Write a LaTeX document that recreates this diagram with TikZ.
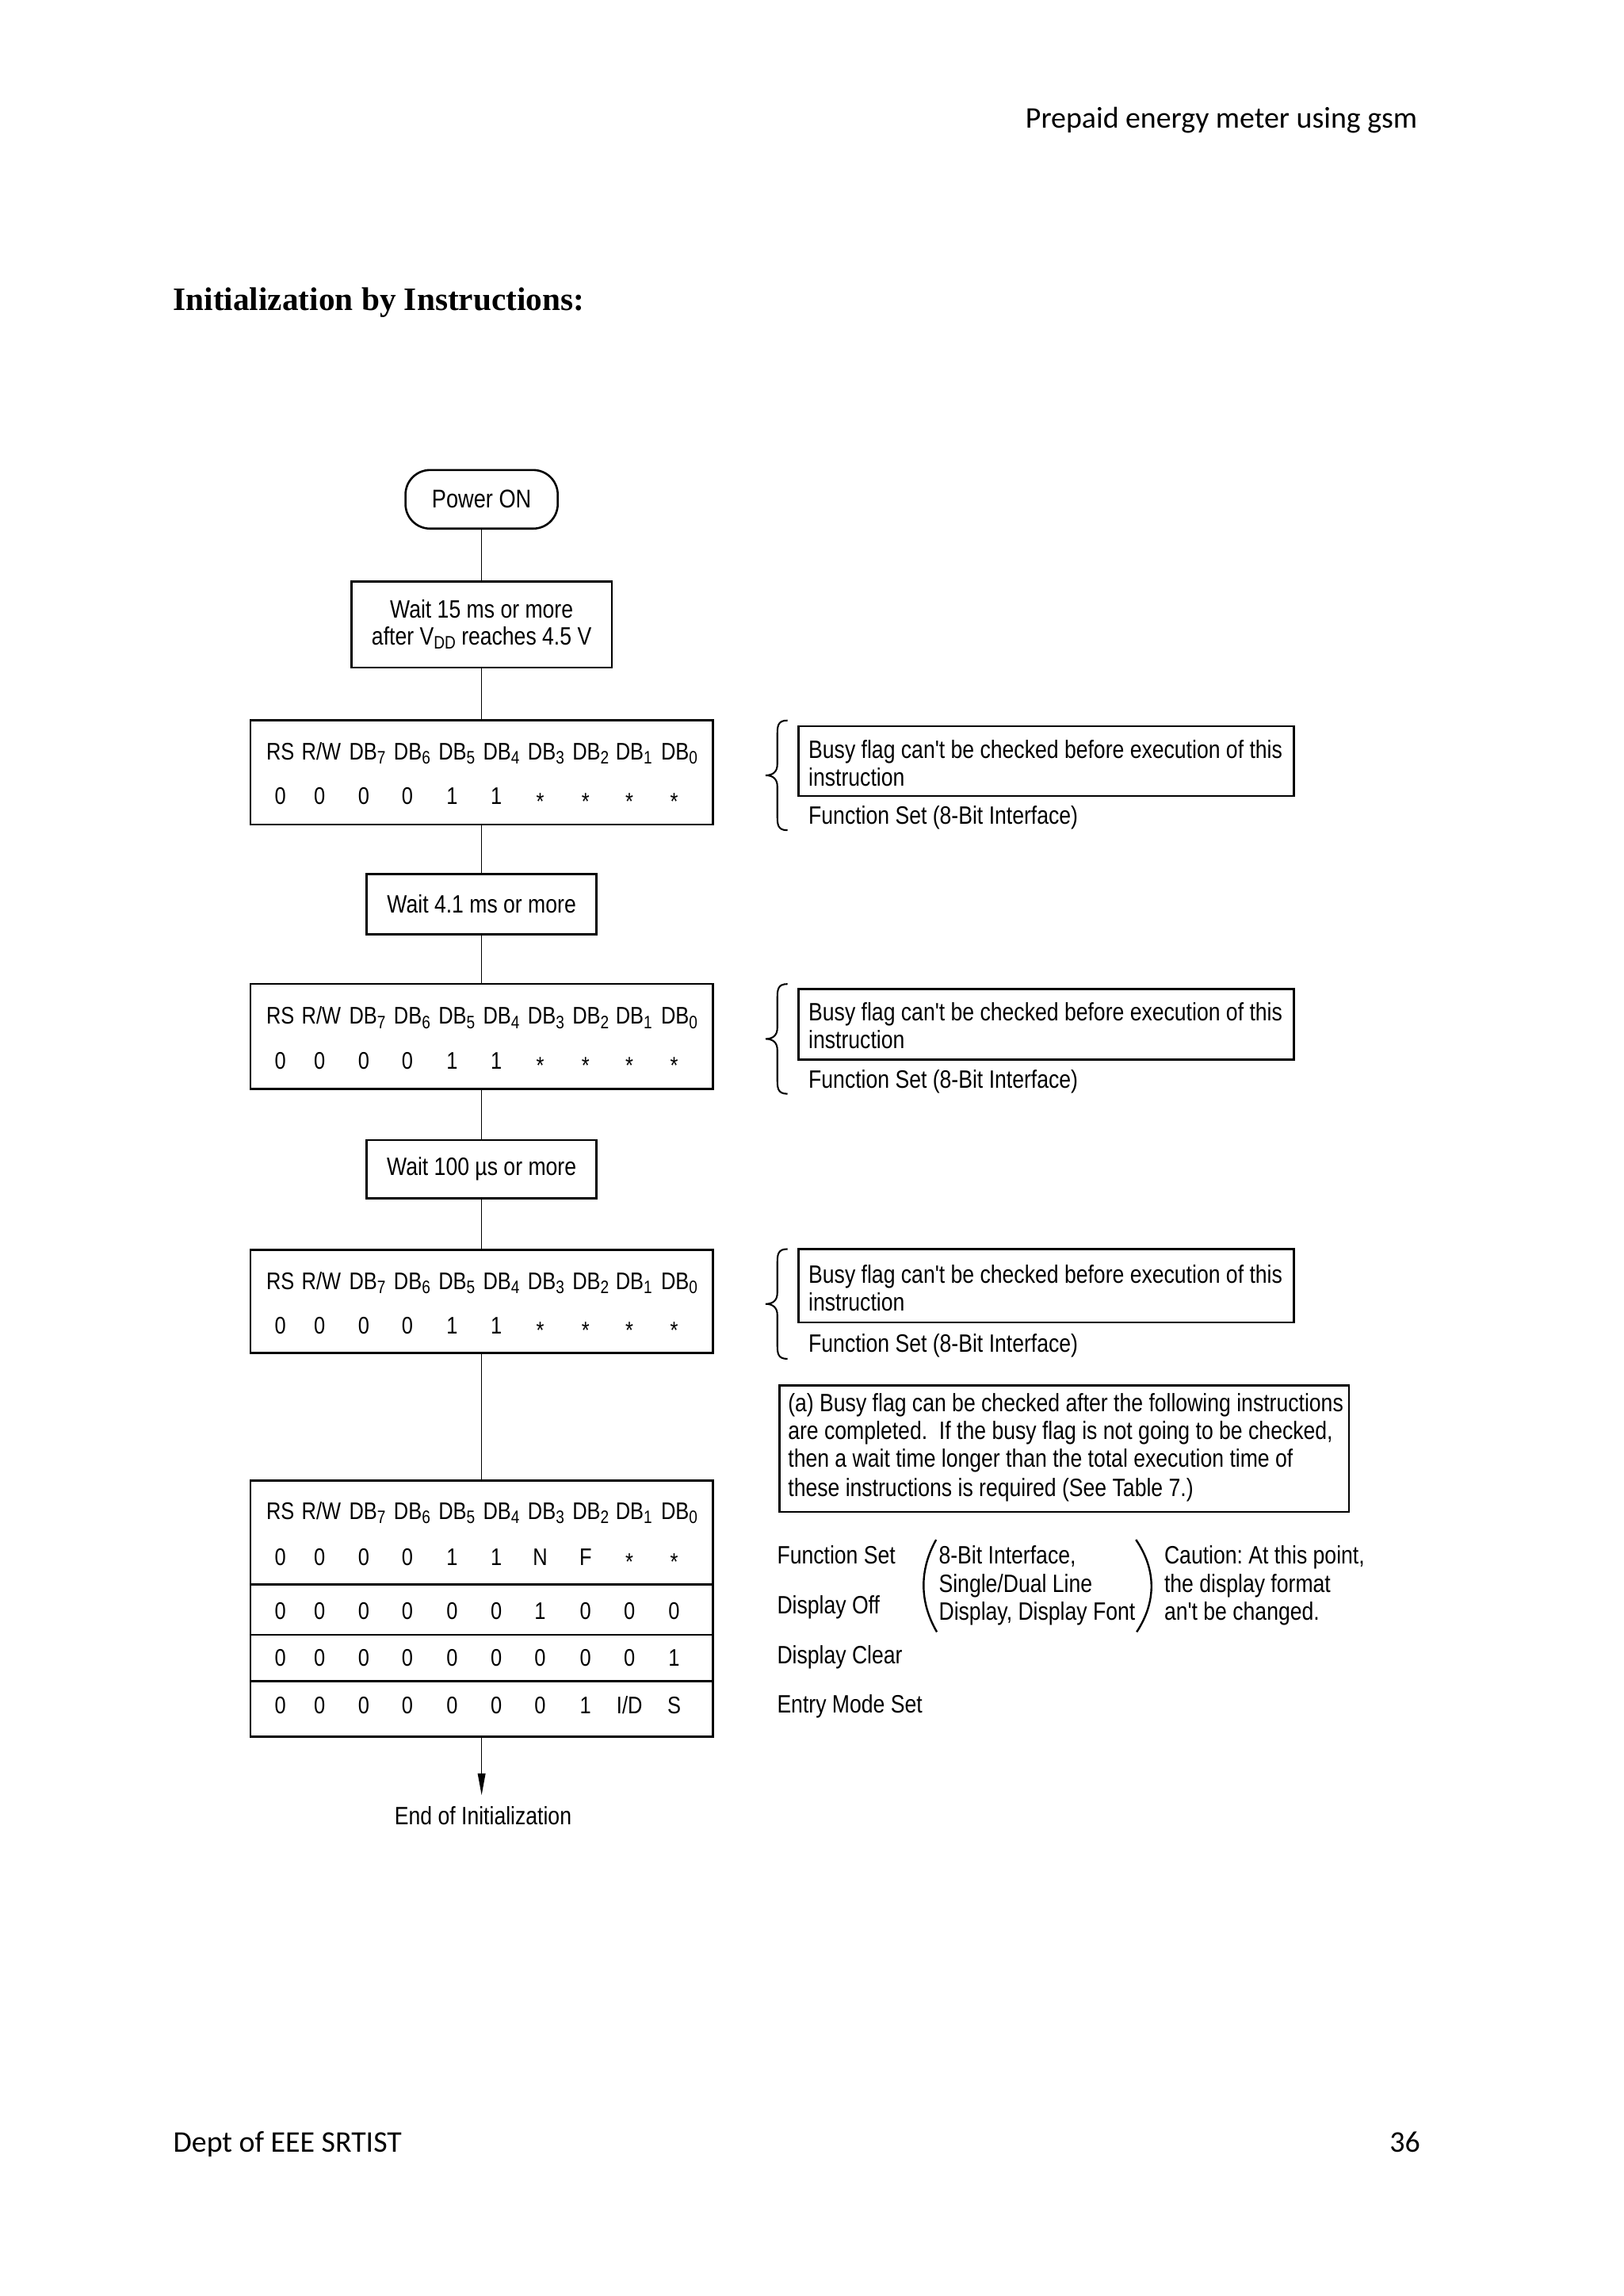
\documentclass[tikz,border=0pt]{standalone}
\usepackage{fontspec}
\setmainfont{Liberation Serif}
\newfontfamily\carl{Carlito}
\newfontfamily\nar[FakeStretch=0.84]{Liberation Sans}
\usetikzlibrary{arrows.meta,fit}
\frenchspacing
\newcommand\stt{\raisebox{-1.9pt}{*}}
\newcommand\sbs[1]{\raisebox{-1.6pt}{\fontsize{6.6}{7}\selectfont #1}}
\tikzset{
  bx/.style={draw, line width=0.75pt, inner sep=0pt, outer sep=0pt},
  txt/.style={font=\nar\fontsize{9.2}{10.4}\selectfont, inner sep=0pt},
  lt/.style={font=\nar\fontsize{9.2}{10.4}\selectfont, inner sep=0pt, anchor=west, text height=6.6pt, text depth=0pt},
  hd/.style={font=\nar\fontsize{8.8}{9}\selectfont, inner sep=0pt, text height=6.3pt, text depth=0pt},
  val/.style={font=\nar\fontsize{8.8}{9}\selectfont, inner sep=0pt, text height=6.3pt, text depth=0pt},
  conn/.style={line width=0.45pt},
  brc/.style={line width=0.6pt},
  par/.style={line width=0.7pt},
}
\newcommand\hdrrow[2]{%
  \foreach \x/\t [count=\i] in {191.5/RS,219.5/{R/W},251/DB\sbs{7},281.5/DB\sbs{6},312/DB\sbs{5},342.5/DB\sbs{4},373/DB\sbs{3},403.5/DB\sbs{2},433/DB\sbs{1},464/DB\sbs{0}}
    {\node[hd] (#2h\i) at (\x,#1) {\t};}}
\newcommand\valrow[3]{%
  \foreach \v [count=\i from 0] in {#3}
    {\pgfmathsetmacro\xx{{191.5,218.3,248.5,278.3,308.8,339,369,400,430,460.5}[\i]}
     \node[val] (#2v\i) at (\xx,#1) {\v};}}
\newcommand\busynote[7]{%
  \draw[brc] (538,#1) .. controls (531,#1) and (531,#1+4) .. (531,#1+11) -- (531,#1+30)
    .. controls (531,#1+35) and (528,#1+37.5) .. (523,#1+37.5)
    .. controls (528,#1+37.5) and (531,#1+40) .. (531,#1+45) -- (531,#1+64)
    .. controls (531,#1+71) and (531,#1+75) .. (538,#1+75);
  \node[bx, fit={(545.5,#2) (884,#3)}] (#7box) {};
  \node[lt] (#7a) at (552,#4) {Busy flag can't be checked before execution of this};
  \node[lt] (#7b) at (552,#5) {instruction};
  \node[lt] (#7c) at (552,#6) {Function Set (8-Bit Interface)};
}
\begin{document}
\begin{tikzpicture}[x=0.5368pt,y=-0.5368pt]
\fill[white] (0,0) rectangle (1109,1568);
\useasboundingbox (0,0) rectangle (1109,1568);

% page header, title, footer
\node[font=\carl\fontsize{11}{13}\selectfont, anchor=base east, inner sep=0pt] (pghead) at (968.5,87.5) {Prepaid energy meter using gsm};
\node[font=\bfseries\fontsize{12}{14}\selectfont, anchor=base west, inner sep=0pt] (title) at (118,212) {Initialization by Instructions:};
\node[font=\carl\fontsize{11}{13}\selectfont, anchor=base west, inner sep=0pt] (foot) at (118,1469.5) {Dept of EEE SRTIST};
\node[font=\carl\fontsize{11}{13}\selectfont, anchor=base east, inner sep=0pt] (pgno) at (970.5,1469.5) {36};

% flow boxes
\node[bx, rounded corners=9pt, fit={(277,321) (381,361)},
      label={[name=pwrt, font=\nar\fontsize{9.4}{10}\selectfont, inner sep=0pt]center:Power ON}] (pwr) {};
\node[bx, fit={(240,397) (418,456)},
      label={[name=w15t, font=\nar\fontsize{9.2}{9.8}\selectfont, align=center, inner sep=0pt]center:{Wait 15 ms or more\\after V\sbs{DD} reaches 4.5 V}}] (w15) {};
\node[bx, fit={(171,492) (487,563)}] (t1) {};
\node[bx, fit={(250.5,597) (407.5,638)},
      label={[name=w41t, txt]center:Wait 4.1 ms or more}] (w41) {};
\node[bx, fit={(171,672) (487,743.5)}] (t2) {};
\node[bx, fit={(250.5,778.5) (407.5,818.5)},
      label={[name=w100t, txt]center:Wait 100 µs or more}] (w100) {};
\node[bx, fit={(171,853.5) (487,924)}] (t3) {};
\node[bx, fit={(171,1011) (487,1186)}] (t4) {};
\draw[line width=0.75pt] (171,1082) -- (487,1082);
\draw[line width=0.75pt] (171,1116.5) -- (487,1116.5);
\draw[line width=0.75pt] (171,1148) -- (487,1148);

% connectors
\draw[conn] (pwr.south) -- (w15.north);
\draw[conn] (w15.south) -- (t1.north);
\draw[conn] (t1.south) -- (w41.north);
\draw[conn] (w41.south) -- (t2.north);
\draw[conn] (t2.south) -- (w100.north);
\draw[conn] (w100.south) -- (t3.north);
\draw[conn] (t3.south) -- (t4.north);
\coordinate (endc) at (329,1226);
\draw[conn, -{Triangle[length=8pt,width=2.8pt]}] (t4.south) -- (endc);
\node[txt] (endt) at (330,1240) {End of Initialization};

% table contents
\hdrrow{513}{t1}
\valrow{543.5}{t1}{0,0,0,0,1,1,\stt,\stt,\stt,\stt}
\hdrrow{693.5}{t2}
\valrow{724}{t2}{0,0,0,0,1,1,\stt,\stt,\stt,\stt}
\hdrrow{874.5}{t3}
\valrow{905}{t3}{0,0,0,0,1,1,\stt,\stt,\stt,\stt}
\hdrrow{1031.6}{t4}
\valrow{1063}{t4a}{0,0,0,0,1,1,N,F,\stt,\stt}
\valrow{1100}{t4b}{0,0,0,0,0,0,1,0,0,0}
\valrow{1132}{t4c}{0,0,0,0,0,0,0,0,0,1}
\valrow{1164.3}{t4d}{0,0,0,0,0,0,0,1,{I/D},S}

% side notes
\busynote{492}{496}{543.5}{511.6}{530.5}{556.5}{nA}
\busynote{672}{675.5}{723.5}{691}{710}{737}{nB}
\busynote{853}{853}{903}{870}{889}{917}{nC}

\node[bx, fit={(532.5,946) (921.5,1032.5)}] (nbox) {};
\node[lt] (na1) at (538,958) {(a) Busy flag can be checked after the following instructions};
\node[lt] (na2) at (538,977) {are completed.\ \ If the busy flag is not going to be checked,};
\node[lt] (na3) at (538,996) {then a wait time longer than the total execution time of};
\node[lt] (na4) at (538,1016) {these instructions is required (See Table 7.)};

\node[lt] (fs) at (530.5,1062) {Function Set};
\node[lt] (doff) at (530.5,1096) {Display Off};
\node[lt] (dcl) at (530.5,1130) {Display Clear};
\node[lt] (ems) at (530.5,1163.5) {Entry Mode Set};
\draw[par] (639.5,1051.5) .. controls (628,1072) and (628,1094) .. (640,1114.5);
\draw[par] (776,1051.5) .. controls (790,1072) and (790,1094) .. (776.5,1114.5);
\node[lt] (p1) at (641,1062) {8-Bit Interface,};
\node[lt] (p2) at (641,1081.5) {Single/Dual Line};
\node[lt] (p3) at (641,1100) {Display, Display Font};
\node[lt] (c1) at (795,1062) {Caution: At this point,};
\node[lt] (c2) at (795,1081.5) {the display format};
\node[lt] (c3) at (795,1100) {an't be changed.};
\end{tikzpicture}
\end{document}
